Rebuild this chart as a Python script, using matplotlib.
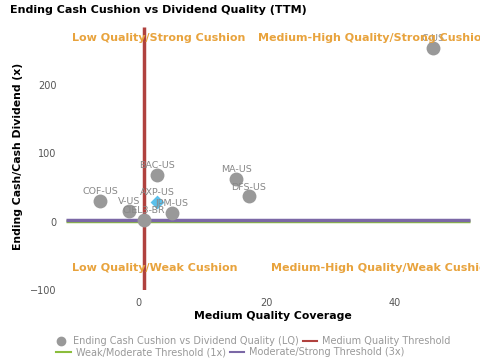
import matplotlib
matplotlib.use("Agg")
import matplotlib.pyplot as plt
from matplotlib.lines import Line2D

# data
tickers = ["C-US", "BAC-US", "COF-US", "AXP-US", "V-US", "JPM-US", "CIEL3-BR", "MA-US", "DFS-US"]
coverage = [46.1, 3.0, -5.9, 3.0, -1.4, 5.3, 0.9, 15.3, 17.3]
cash_div = [254, 69, 31, 29, 16, 13, 3, 63, 37]
highlight = "AXP-US"

quality_threshold = 1.0
weak_moderate = 1.0
moderate_strong = 3.0
line_span = [-11.2, 51.8]

quad_labels = ["Low Quality/Strong Cushion", "Medium-High Quality/Strong Cushion",
               "Low Quality/Weak Cushion", "Medium-High Quality/Weak Cushion"]
quad_pos = [(-10.3, 268), (18.8, 268), (-10.3, -68), (20.7, -68)]

orange = "#e8a33d"
gray = "#999999"

fig = plt.figure(figsize=(4.8, 3.6), dpi=100)
ax = fig.add_axes([0.1375, 0.194, 0.8625, 0.745])
ax.set_xlim(-11.25, 53.4)
ax.set_ylim(-100, 292)

ax.hlines(weak_moderate, line_span[0], line_span[1], color="#8bbd3c", lw=2.5, zorder=2)
ax.hlines(moderate_strong, line_span[0], line_span[1], color="#7b68a6", lw=2.5, zorder=3)
ax.vlines(quality_threshold, -100, 285, color="#b0413e", lw=2.5, zorder=3)

for t, x, y in zip(tickers, coverage, cash_div):
    if t == highlight:
        ax.scatter(x, y, s=50, marker="D", color="#5bc0eb", zorder=5, linewidths=0)
    else:
        ax.scatter(x, y, s=100, color=gray, zorder=4, linewidths=0)
    ax.annotate(t, (x, y), xytext=(0, 3.5), textcoords="offset points", ha="center",
                va="bottom", fontsize=6.8, color="#888888", zorder=6)

for lab, (x, y) in zip(quad_labels, quad_pos):
    ax.text(x, y, lab, color=orange, fontsize=8, fontweight="bold", ha="left",
            va="center", clip_on=True, zorder=7)

for s in ax.spines.values():
    s.set_visible(False)
ax.set_xticks([0, 20, 40])
ax.set_yticks([-100, 0, 100, 200])
ax.tick_params(length=0, labelsize=7, labelcolor="#555555")
ax.tick_params(axis="x", pad=6)
ax.tick_params(axis="y", pad=7)
ax.set_xlabel("Medium Quality Coverage", fontsize=7.8, fontweight="bold", labelpad=2)
ax.set_ylabel("Ending Cash/Cash Dividend (x)", fontsize=7.8, fontweight="bold", labelpad=5)

fig.text(0.02, 0.972, "Ending Cash Cushion vs Dividend Quality (TTM)", fontsize=8,
         fontweight="bold", ha="left", va="center")

row1 = [Line2D([], [], marker="o", ls="", color=gray, markersize=6),
        Line2D([], [], color="#b0413e", lw=1.5)]
row1_labels = ["Ending Cash Cushion vs Dividend Quality (LQ)", "Medium Quality Threshold"]
row2 = [Line2D([], [], color="#8bbd3c", lw=1.5),
        Line2D([], [], color="#7b68a6", lw=1.5)]
row2_labels = ["Weak/Moderate Threshold (1x)", "Moderate/Strong Threshold (3x)"]

for hs, ls, cx, cy in [(row1, row1_labels, 0.525, 0.053), (row2, row2_labels, 0.48, 0.022)]:
    leg = fig.legend(hs, ls, loc="center", bbox_to_anchor=(cx, cy), ncol=2, frameon=False,
                     fontsize=7, handlelength=1.5, handletextpad=0.5, columnspacing=0.4,
                     borderpad=0)
    for t in leg.get_texts():
        t.set_color("#999999")

fig.savefig("out.png", dpi=100)
